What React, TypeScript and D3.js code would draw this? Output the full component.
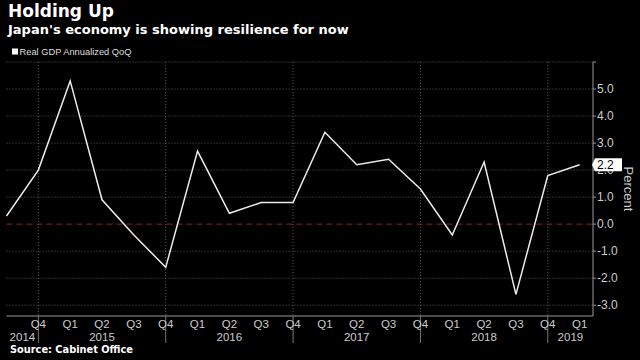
import React from 'react';
import * as d3 from 'd3';

// Real GDP annualized QoQ, 2014 Q3 .. 2019 Q1
const periods = [
  '2014 Q3', '2014 Q4',
  '2015 Q1', '2015 Q2', '2015 Q3', '2015 Q4',
  '2016 Q1', '2016 Q2', '2016 Q3', '2016 Q4',
  '2017 Q1', '2017 Q2', '2017 Q3', '2017 Q4',
  '2018 Q1', '2018 Q2', '2018 Q3', '2018 Q4',
  '2019 Q1',
];
const gdp = [0.3, 2.0, 5.3, 0.9, -0.4, -1.6, 2.7, 0.4, 0.8, 0.8, 3.4, 2.2, 2.4, 1.3, -0.4, 2.3, -2.6, 1.8, 2.2];
const years = ['2014', '2015', '2016', '2017', '2018', '2019'];
const yTicks = [-3, -2, -1, 0, 1, 2, 3, 4, 5];
const yGrid = [-3, -2, -1, 0, 1, 2, 3, 4, 5, 6];

const W = 640;
const H = 360;
const plot = { left: 6.5, right: 593, top: 62, bottom: 316 };

const titleFont = '"DejaVu Sans", sans-serif';
const axisFont = '"Liberation Sans", Arial, sans-serif';

const App = () => {
  const x = d3.scaleLinear()
    .domain([0, gdp.length - 1 + 0.42])
    .range([plot.left, plot.right]);
  const y = d3.scaleLinear()
    .domain([-3.4, 6])
    .range([plot.bottom, plot.top]);

  const line = d3.line<number>()
    .x((_, i) => x(i))
    .y(d => y(d));

  const quarter = (p: string) => p.split(' ')[1];
  const q4 = periods.map((p, i) => (quarter(p) === 'Q4' ? i : -1)).filter(i => i >= 0);
  const bounds = [plot.left, ...q4.map(i => x(i)), plot.right];

  const last = gdp[gdp.length - 1];
  const ly = y(last);

  return (
    <div style={{ position: 'fixed', left: 0, top: 0, width: W, height: H, background: '#000' }}>
      <svg width={W} height={H} style={{ display: 'block' }}>
        <rect width={W} height={H} fill="#000" />

        {/* titles */}
        <text x={8} y={17} fill="#fff" fontFamily={titleFont} fontWeight="bold" fontSize={17}>Holding Up</text>
        <text x={8} y={33.5} fill="#fff" fontFamily={titleFont} fontWeight="bold" fontSize={13}>
          Japan's economy is showing resilience for now
        </text>

        {/* legend */}
        <rect x={12} y={48.5} width={6} height={6} fill="#fff" />
        <text x={19.5} y={55.3} fill="#ddd" fontFamily={axisFont} fontSize={9.3}>Real GDP Annualized QoQ</text>

        {/* grid */}
        {yGrid.filter(t => t !== 0).map(t => (
          <line key={t} x1={plot.left} x2={plot.right} y1={y(t)} y2={y(t)}
            stroke="#5a5a5a" strokeWidth={1} strokeDasharray="1,2" />
        ))}
        {q4.map(i => (
          <line key={i} x1={x(i)} x2={x(i)} y1={plot.top} y2={plot.bottom}
            stroke="#5a5a5a" strokeWidth={1} strokeDasharray="1,2" />
        ))}
        <line x1={plot.left} x2={plot.right} y1={y(0)} y2={y(0)}
          stroke="#8a2424" strokeWidth={1} strokeDasharray="6,4" />

        {/* series */}
        <path d={line(gdp) || ''} fill="none" stroke="#ececec" strokeWidth={1.5} />

        {/* x axis */}
        <line x1={plot.left} x2={plot.right} y1={plot.bottom} y2={plot.bottom} stroke="#9a9a9a" />
        {q4.map(i => (
          <line key={i} x1={x(i)} x2={x(i)} y1={plot.bottom} y2={343} stroke="#777" />
        ))}
        {periods.map((p, i) => i === 0 ? null : (
          <text key={p} x={x(i)} y={327.5} textAnchor="middle" fill="#ccc"
            fontFamily={axisFont} fontSize={11.5}>{quarter(p)}</text>
        ))}
        {years.map((yr, k) => (
          <text key={yr} x={(bounds[k] + bounds[k + 1]) / 2} y={340.5} textAnchor="middle" fill="#ccc"
            fontFamily={axisFont} fontSize={11.5}>{yr}</text>
        ))}

        {/* y axis */}
        <line x1={plot.right} x2={plot.right} y1={plot.top} y2={plot.bottom} stroke="#9a9a9a" />
        {yGrid.map(t => (
          <line key={t} x1={plot.right} x2={plot.right + 3} y1={y(t)} y2={y(t)} stroke="#9a9a9a" />
        ))}
        {yTicks.map(t => (
          <text key={t} x={plot.right + 4} y={y(t)} dy="0.35em" fill="#ccc"
            fontFamily={axisFont} fontSize={12}>{d3.format('.1f')(t).replace('−', '-')}</text>
        ))}
        <text transform={`translate(624,189) rotate(90)`} textAnchor="middle" fill="#ccc"
          fontFamily={axisFont} fontSize={13}>Percent</text>

        {/* last value marker */}
        <path d={`M${plot.right - 1},${ly} L${plot.right + 2},${ly - 6.5} L${plot.right + 29},${ly - 6.5} L${plot.right + 29},${ly + 6.5} L${plot.right + 2},${ly + 6.5} Z`}
          fill="#fff" />
        <text x={plot.right + 4} y={ly} dy="0.36em" fill="#000" fontFamily={axisFont} fontSize={12}>
          {last.toFixed(1)}
        </text>

        {/* source */}
        <text x={10} y={352.5} fill="#fff" fontFamily={titleFont} fontWeight="bold" fontSize={9.8}>Source: Cabinet Office</text>
      </svg>
    </div>
  );
};

export default App;
